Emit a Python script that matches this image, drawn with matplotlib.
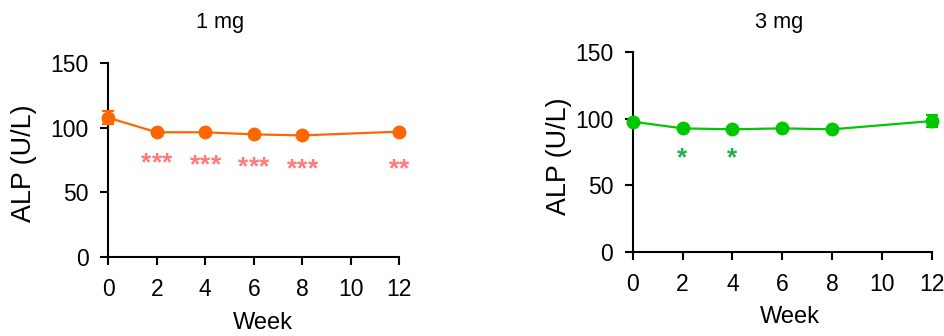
import numpy as np
import matplotlib
matplotlib.use('Agg')
import matplotlib.pyplot as plt

plt.rcParams['font.family'] = ['Liberation Sans', 'DejaVu Sans']

weeks = [0, 2, 4, 6, 8, 12]

# 1 mg
alp_1mg = [107.8, 96.5, 96.5, 94.9, 94.1, 97.0]
err_1mg = [4.9, 0, 0, 0, 0, 0]
sig_1mg = ['***', '***', '***', '***', '**']
sig_1mg_x = [2, 4, 6, 8, 12]
sig_1mg_y = [77.5, 76.5, 75, 73.2, 73]

# 3 mg
alp_3mg = [97.7, 92.7, 92.0, 92.7, 92.0, 98.2]
err_3mg = [0, 0, 0, 0, 0, 4.7]
sig_3mg = ['*', '*']
sig_3mg_x = [2, 4]
sig_3mg_y = [75.7, 75.7]

orange = '#ff6600'
green = '#00c800'

fig = plt.figure(figsize=(9.44, 3.36), dpi=100)

def panel(rect, y, err, color, sig, sx, sy, scolor):
    ax = fig.add_axes(rect)
    ax.errorbar(weeks, y, yerr=err, color=color, lw=1.6, marker='o', ms=9,
                capsize=4, capthick=1.6, elinewidth=1.6, clip_on=False, zorder=3)
    for t, xx, yy in zip(sig, sx, sy):
        n = len(t)
        # each star drawn on its own, ~10px apart like the original
        for k in range(n):
            dx = (k - (n - 1) / 2) * 7.5
            ax.annotate('*', (xx, yy), xytext=(dx, -5), textcoords='offset points',
                        color=scolor, fontsize=19, fontweight='bold',
                        ha='center', va='center')
    ax.set_xlim(0, 12)
    ax.set_ylim(0, 150)
    ax.set_xticks([0, 2, 4, 6, 8, 10, 12])
    ax.set_yticks([0, 50, 100, 150])
    for s in ['top', 'right']:
        ax.spines[s].set_visible(False)
    for s in ['left', 'bottom']:
        ax.spines[s].set_linewidth(1.5)
    ax.tick_params(axis='both', labelsize=16.5, width=1.5, length=6)
    ax.tick_params(axis='x', pad=9)
    ax.tick_params(axis='y', pad=8)
    return ax

ax1 = panel([0.1147, 0.236, 0.3083, 0.5755], alp_1mg, err_1mg, orange,
            sig_1mg, sig_1mg_x, sig_1mg_y, '#ff7a7a')
ax2 = panel([0.6702, 0.249, 0.317, 0.597], alp_3mg, err_3mg, green,
            sig_3mg, sig_3mg_x, sig_3mg_y, '#20b050')

fig.text(220/944, 1 - 22.7/336, '1 mg', ha='center', va='center', fontsize=15.7)
fig.text(778.7/944, 1 - 22.7/336, '3 mg', ha='center', va='center', fontsize=15.7)
fig.text(263/944, 1 - 322.7/336, 'Week', ha='center', va='center', fontsize=17)
fig.text(790/944, 1 - 316.7/336, 'Week', ha='center', va='center', fontsize=17)
fig.text(24/944, 1 - 163/336, 'ALP (U/L)', ha='center', va='center', fontsize=19.4, rotation=90)
fig.text(559/944, 1 - 156.7/336, 'ALP (U/L)', ha='center', va='center', fontsize=19.4, rotation=90)

fig.savefig('out.png', dpi=100)
